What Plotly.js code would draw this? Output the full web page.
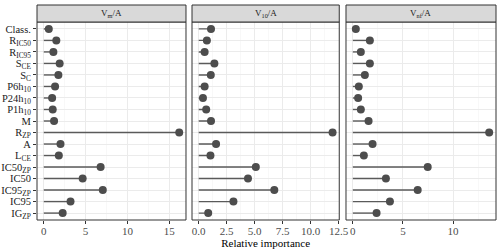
<!DOCTYPE html>
<html><head>
<meta charset="utf-8">
<script src="https://cdn.plot.ly/plotly-3.0.1.min.js"></script>
<style>body{margin:0;background:#fff}</style>
</head><body>
<div id="chart" style="width:500px;height:250px"></div>
<script>
const categories = ["Class.","R_IC50","R_IC95","S_CE","S_C","P6h_10","P24h_10","P1h_10","M","R_ZP","A","L_CE","IC50_ZP","IC50","IC95_ZP","IC95","IG_ZP"];
const tickLabels = ["Class.","R<sub>IC50</sub>","R<sub>IC95</sub>","S<sub>CE</sub>","S<sub>C</sub>","P6h<sub>10</sub>","P24h<sub>10</sub>","P1h<sub>10</sub>","M","R<sub>ZP</sub>","A","L<sub>CE</sub>","IC50<sub>ZP</sub>","IC50","IC95<sub>ZP</sub>","IC95","IG<sub>ZP</sub>"];
const panelTitles = ["V<sub>m</sub>/A","V<sub>10</sub>/A","V<sub>nf</sub>/A"];
const valuesVm  = [0.6,1.5,1.15,1.9,1.75,1.35,1.0,1.07,1.23,16.2,2.0,1.8,6.8,4.65,7.06,3.2,2.26];
const valuesV10 = [1.1,0.73,0.53,1.4,1.08,0.53,0.38,0.67,1.1,11.95,1.55,1.05,5.1,4.4,6.75,3.1,0.85];
const valuesVnf = [0.3,1.7,0.8,1.7,1.2,0.6,0.53,0.8,1.57,13.6,1.97,1.1,7.47,3.3,6.47,3.7,2.37];
const xTickVals = [[0,5,10,15],[0,2.5,5,7.5,10,12.5],[0,5,10]];
const xTickText = [["0","5","10","15"],["0.0","2.5","5.0","7.5","10.0","12.5"],["0","5","10"]];

const series = [valuesVm, valuesV10, valuesVnf];
const domains = [[0,0.3246],[0.3377,0.6585],[0.6732,1]];
const font = "Liberation Serif";
const dark = "#333333";

const traces = [];
const layout = {
  width:500, height:250,
  margin:{l:37,r:4,t:22,b:30},
  paper_bgcolor:"#fff", plot_bgcolor:"#fff",
  showlegend:false,
  font:{family:font,size:11,color:"#4d4d4d"},
  yaxis:{
    type:"category", categoryorder:"array", categoryarray:categories,
    tickvals:categories, ticktext:tickLabels,
    range:[categories.length-0.4,-0.6], autorange:false,
    showgrid:true, gridcolor:"#ebebeb", gridwidth:1,
    ticks:"outside", ticklen:3, tickcolor:dark, tickwidth:1,
    tickfont:{family:font,size:10.5,color:"#1a1a1a"},
    showline:false, zeroline:false, fixedrange:true
  },
  shapes:[], annotations:[]
};

series.forEach((vals,i)=>{
  const xa = i===0 ? "x" : "x"+(i+1);
  const key = i===0 ? "xaxis" : "xaxis"+(i+1);
  const mx = Math.max(...vals);
  const pad = 0.05*mx;
  layout[key] = {
    domain:domains[i], anchor:"y", range:[-pad, mx+pad],
    tickvals:xTickVals[i], ticktext:xTickText[i],
    showgrid:true, gridcolor:"#ebebeb", gridwidth:1,
    minor:{showgrid:true, gridcolor:"#f4f4f4", gridwidth:0.6, dtick:(xTickVals[i][1]-xTickVals[i][0])/2},
    ticks:"outside", ticklen:3, tickcolor:dark, tickwidth:1,
    ticklabelstandoff:-2,
    tickfont:{family:font,size:11,color:"#4d4d4d"},
    zeroline:false, showline:false, fixedrange:true
  };
  if(i===1){ layout[key].title = {text:"Relative importance", font:{family:font,size:11,color:"#000"}, standoff:0}; }
  const lx=[], ly=[];
  vals.forEach((v,j)=>{ lx.push(0,v,null); ly.push(categories[j],categories[j],null); });
  traces.push({type:"scatter",mode:"lines",x:lx,y:ly,xaxis:xa,yaxis:"y",
    line:{color:"#5a5a5a",width:1.4},hoverinfo:"skip"});
  traces.push({type:"scatter",mode:"markers",x:vals,y:categories,xaxis:xa,yaxis:"y",
    marker:{color:"#4d4d4d",size:8}});
  layout.shapes.push({type:"rect",xref:xa+" domain",yref:"y domain",x0:0,x1:1,y0:0,y1:1,
    line:{color:dark,width:1},fillcolor:"rgba(0,0,0,0)",layer:"above"});
  layout.shapes.push({type:"rect",xref:xa+" domain",yref:"paper",x0:0,x1:1,y0:1,y1:1+17/198,
    line:{color:dark,width:1},fillcolor:"#d9d9d9",layer:"above"});
  layout.annotations.push({text:panelTitles[i],xref:xa+" domain",yref:"paper",x:0.5,y:1+8.5/198,
    xanchor:"center",yanchor:"middle",showarrow:false,font:{family:font,size:9,color:"#1a1a1a"}});
});

Plotly.newPlot("chart",traces,layout,{displayModeBar:false,staticPlot:true});
</script>
</body></html>
